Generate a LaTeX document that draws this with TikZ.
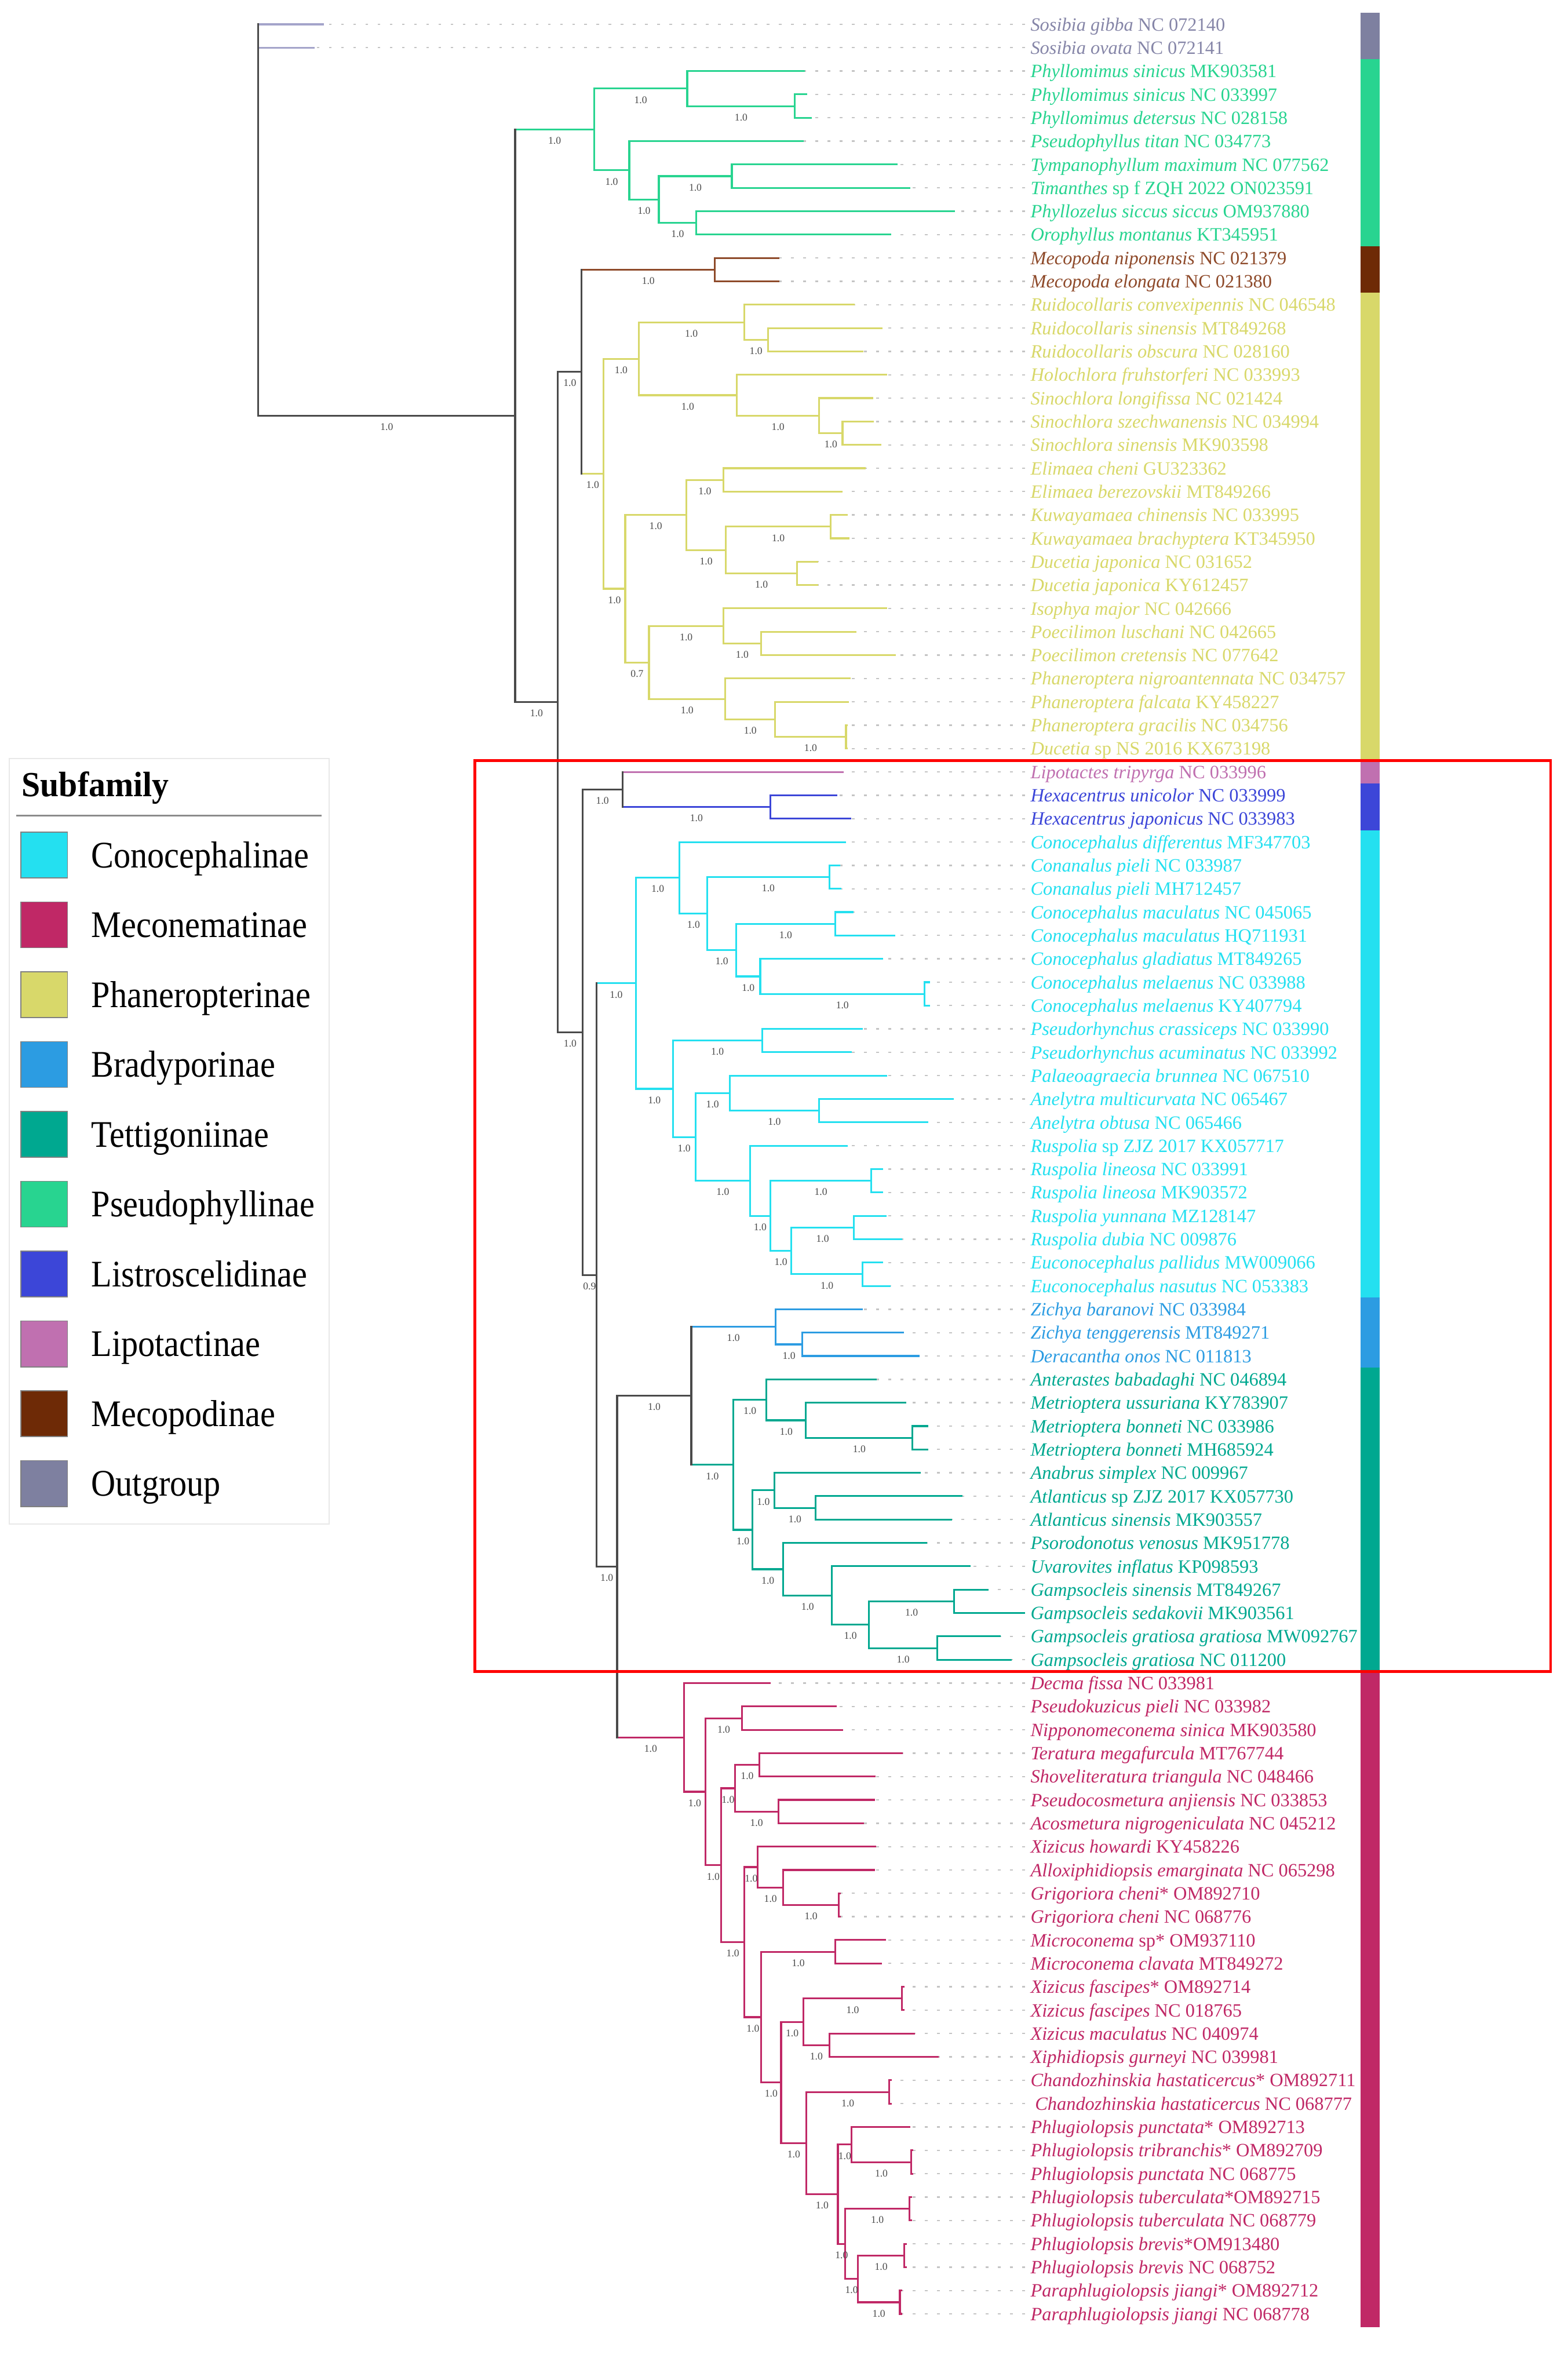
\documentclass[tikz,border=0pt]{standalone}
\usepackage{fontspec}
\setmainfont{Liberation Serif}
\usepackage{graphicx}
\usetikzlibrary{calc}
\definecolor{bb}{HTML}{4A4A4A}
\definecolor{outg}{HTML}{7E80A0}
\definecolor{outgB}{HTML}{A4A4CA}
\definecolor{outgT}{HTML}{8686A8}
\definecolor{pseu}{HTML}{28D490}
\definecolor{meco}{HTML}{6E2A06}
\definecolor{mecoB}{HTML}{8E4A2A}
\definecolor{phan}{HTML}{D8D86A}
\definecolor{lipo}{HTML}{C070B0}
\definecolor{lstr}{HTML}{3C46D8}
\definecolor{cono}{HTML}{24E0F0}
\definecolor{brad}{HTML}{2C9CE2}
\definecolor{tett}{HTML}{00A890}
\definecolor{mecn}{HTML}{C02866}
\definecolor{supcol}{HTML}{4A4A4A}
\definecolor{leadcol}{HTML}{C4C4C4}
\newcommand\tleaf[4]{%
  \pgfmathsetmacro\lyy{16.2+15.555*(#1-1)}%
  \coordinate (l#1) at (#2,\lyy);%
  \node[lab,text=#3] (t#1) at (686,\lyy) {#4};%
  \draw[leader] (t#1.west |- l#1) -- (l#1);%
}
\newcommand\bif[4]{\draw[fork,#4] (#2) -| (#1) |- (#3);}
\newcommand\hb[3]{\draw[br,#3] (#1 |- #2) -- (#2);}
\newcommand\vb[4]{\draw[br,#4] (#1 |- #2) -- (#1 |- #3);}
\newcommand\sv[3]{\path (#1 |- #2) -- node[supp] (s#2) {#3} (#2);}
\begin{document}
\begin{tikzpicture}[x=1pt,y=-1pt,
 br/.style={line width=1.2pt,line cap=rect},
 fork/.style={line width=1.2pt,line join=miter},
 lab/.style={anchor=base west,inner sep=0pt,yshift=-4.3pt,font=\fontsize{12.5}{14}\selectfont},
 supp/.style={inner sep=0pt,yshift=-7.5pt,font=\fontsize{6.8}{7}\selectfont,text=supcol},
 leader/.style={draw=leadcol,line width=0.9pt,dash pattern=on 1.8pt off 6.3pt,shorten <=3.5pt},
 legtxt/.style={anchor=base west,inner sep=0pt,font=\fontsize{25}{28}\selectfont},
 swatch/.style={draw=black!50,line width=0.6pt,minimum width=31pt,minimum height=30.5pt,inner sep=0pt}
]
\useasboundingbox (0,0) rectangle (1044,1568);
% ---------- leaves ----------
\tleaf{1}{215}{outgT}{\textit{Sosibia gibba} NC 072140}
\tleaf{2}{209}{outgT}{\textit{Sosibia ovata} NC 072141}
\tleaf{3}{536}{pseu}{\textit{Phyllomimus sinicus} MK903581}
\tleaf{4}{537.5}{pseu}{\textit{Phyllomimus sinicus} NC 033997}
\tleaf{5}{540.6}{pseu}{\textit{Phyllomimus detersus} NC 028158}
\tleaf{6}{535}{pseu}{\textit{Pseudophyllus titan} NC 034773}
\tleaf{7}{597.8}{pseu}{\textit{Tympanophyllum maximum} NC 077562}
\tleaf{8}{606}{pseu}{\textit{Timanthes} sp f ZQH 2022 ON023591}
\tleaf{9}{636}{pseu}{\textit{Phyllozelus siccus siccus} OM937880}
\tleaf{10}{593.5}{pseu}{\textit{Orophyllus montanus} KT345951}
\tleaf{11}{519}{mecoB}{\textit{Mecopoda niponensis} NC 021379}
\tleaf{12}{519}{mecoB}{\textit{Mecopoda elongata} NC 021380}
\tleaf{13}{569}{phan}{\textit{Ruidocollaris convexipennis} NC 046548}
\tleaf{14}{587.5}{phan}{\textit{Ruidocollaris sinensis} MT849268}
\tleaf{15}{575}{phan}{\textit{Ruidocollaris obscura} NC 028160}
\tleaf{16}{590.6}{phan}{\textit{Holochlora fruhstorferi} NC 033993}
\tleaf{17}{581.4}{phan}{\textit{Sinochlora longifissa} NC 021424}
\tleaf{18}{581.8}{phan}{\textit{Sinochlora szechwanensis} NC 034994}
\tleaf{19}{586.8}{phan}{\textit{Sinochlora sinensis} MK903598}
\tleaf{20}{576.4}{phan}{\textit{Elimaea cheni} GU323362}
\tleaf{21}{561}{phan}{\textit{Elimaea berezovskii} MT849266}
\tleaf{22}{564.4}{phan}{\textit{Kuwayamaea chinensis} NC 033995}
\tleaf{23}{565.6}{phan}{\textit{Kuwayamaea brachyptera} KT345950}
\tleaf{24}{544.6}{phan}{\textit{Ducetia japonica} NC 031652}
\tleaf{25}{544.6}{phan}{\textit{Ducetia japonica} KY612457}
\tleaf{26}{590.6}{phan}{\textit{Isophya major} NC 042666}
\tleaf{27}{570.2}{phan}{\textit{Poecilimon luschani} NC 042665}
\tleaf{28}{596.6}{phan}{\textit{Poecilimon cretensis} NC 077642}
\tleaf{29}{566.4}{phan}{\textit{Phaneroptera nigroantennata} NC 034757}
\tleaf{30}{565.2}{phan}{\textit{Phaneroptera falcata} KY458227}
\tleaf{31}{564.6}{phan}{\textit{Phaneroptera gracilis} NC 034756}
\tleaf{32}{564.6}{phan}{\textit{Ducetia} sp NS 2016 KX673198}
\tleaf{33}{561.1}{lipo}{\textit{Lipotactes tripyrga} NC 033996}
\tleaf{34}{557.5}{lstr}{\textit{Hexacentrus unicolor} NC 033999}
\tleaf{35}{566.7}{lstr}{\textit{Hexacentrus japonicus} NC 033983}
\tleaf{36}{563.4}{cono}{\textit{Conocephalus differentus} MF347703}
\tleaf{37}{559.6}{cono}{\textit{Conanalus pieli} NC 033987}
\tleaf{38}{560.1}{cono}{\textit{Conanalus pieli} MH712457}
\tleaf{39}{568.2}{cono}{\textit{Conocephalus maculatus} NC 045065}
\tleaf{40}{596.1}{cono}{\textit{Conocephalus maculatus} HQ711931}
\tleaf{41}{588}{cono}{\textit{Conocephalus gladiatus} MT849265}
\tleaf{42}{619.2}{cono}{\textit{Conocephalus melaenus} NC 033988}
\tleaf{43}{619.2}{cono}{\textit{Conocephalus melaenus} KY407794}
\tleaf{44}{574.3}{cono}{\textit{Pseudorhynchus crassiceps} NC 033990}
\tleaf{45}{567.3}{cono}{\textit{Pseudorhynchus acuminatus} NC 033992}
\tleaf{46}{590.7}{cono}{\textit{Palaeoagraecia brunnea} NC 067510}
\tleaf{47}{635}{cono}{\textit{Anelytra multicurvata} NC 065467}
\tleaf{48}{618.1}{cono}{\textit{Anelytra obtusa} NC 065466}
\tleaf{49}{564.6}{cono}{\textit{Ruspolia} sp ZJZ 2017 KX057717}
\tleaf{50}{588}{cono}{\textit{Ruspolia lineosa} NC 033991}
\tleaf{51}{588}{cono}{\textit{Ruspolia lineosa} MK903572}
\tleaf{52}{590.3}{cono}{\textit{Ruspolia yunnana} MZ128147}
\tleaf{53}{600.9}{cono}{\textit{Ruspolia dubia} NC 009876}
\tleaf{54}{588}{cono}{\textit{Euconocephalus pallidus} MW009066}
\tleaf{55}{593}{cono}{\textit{Euconocephalus nasutus} NC 053383}
\tleaf{56}{574.5}{brad}{\textit{Zichya baranovi} NC 033984}
\tleaf{57}{602}{brad}{\textit{Zichya tenggerensis} MT849271}
\tleaf{58}{612.3}{brad}{\textit{Deracantha onos} NC 011813}
\tleaf{59}{583.9}{tett}{\textit{Anterastes babadaghi} NC 046894}
\tleaf{60}{603.3}{tett}{\textit{Metrioptera ussuriana} KY783907}
\tleaf{61}{617.9}{tett}{\textit{Metrioptera bonneti} NC 033986}
\tleaf{62}{617.9}{tett}{\textit{Metrioptera bonneti} MH685924}
\tleaf{63}{613.2}{tett}{\textit{Anabrus simplex} NC 009967}
\tleaf{64}{640.9}{tett}{\textit{Atlanticus} sp ZJZ 2017 KX057730}
\tleaf{65}{633.8}{tett}{\textit{Atlanticus sinensis} MK903557}
\tleaf{66}{617.4}{tett}{\textit{Psorodonotus venosus} MK951778}
\tleaf{67}{646.3}{tett}{\textit{Uvarovites inflatus} KP098593}
\tleaf{68}{658.2}{tett}{\textit{Gampsocleis sinensis} MT849267}
\tleaf{69}{682.5}{tett}{\textit{Gampsocleis sedakovii} MK903561}
\tleaf{70}{666.2}{tett}{\textit{Gampsocleis gratiosa gratiosa} MW092767}
\tleaf{71}{673.6}{tett}{\textit{Gampsocleis gratiosa} NC 011200}
\tleaf{72}{513.3}{mecn}{\textit{Decma fissa} NC 033981}
\tleaf{73}{557}{mecn}{\textit{Pseudokuzicus pieli} NC 033982}
\tleaf{74}{561.2}{mecn}{\textit{Nipponomeconema sinica} MK903580}
\tleaf{75}{601.3}{mecn}{\textit{Teratura megafurcula} MT767744}
\tleaf{76}{583}{mecn}{\textit{Shoveliteratura triangula} NC 048466}
\tleaf{77}{582.5}{mecn}{\textit{Pseudocosmetura anjiensis} NC 033853}
\tleaf{78}{575.2}{mecn}{\textit{Acosmetura nigrogeniculata} NC 045212}
\tleaf{79}{583.4}{mecn}{\textit{Xizicus howardi} KY458226}
\tleaf{80}{582.5}{mecn}{\textit{Alloxiphidiopsis emarginata} NC 065298}
\tleaf{81}{560}{mecn}{\textit{Grigoriora cheni}* OM892710}
\tleaf{82}{560}{mecn}{\textit{Grigoriora cheni} NC 068776}
\tleaf{83}{589.8}{mecn}{\textit{Microconema} sp* OM937110}
\tleaf{84}{587.1}{mecn}{\textit{Microconema clavata} MT849272}
\tleaf{85}{602.2}{mecn}{\textit{Xizicus fascipes}* OM892714}
\tleaf{86}{602.2}{mecn}{\textit{Xizicus fascipes} NC 018765}
\tleaf{87}{609.4}{mecn}{\textit{Xizicus maculatus} NC 040974}
\tleaf{88}{624.9}{mecn}{\textit{Xiphidiopsis gurneyi} NC 039981}
\tleaf{89}{593.6}{mecn}{\textit{Chandozhinskia hastaticercus}* OM892711}
\tleaf{90}{593.6}{mecn}{\kern3pt\textit{Chandozhinskia hastaticercus} NC 068777}
\tleaf{91}{606.2}{mecn}{\textit{Phlugiolopsis punctata}* OM892713}
\tleaf{92}{608.2}{mecn}{\textit{Phlugiolopsis tribranchis}* OM892709}
\tleaf{93}{608.2}{mecn}{\textit{Phlugiolopsis punctata} NC 068775}
\tleaf{94}{607.1}{mecn}{\textit{Phlugiolopsis tuberculata}*OM892715}
\tleaf{95}{607.1}{mecn}{\textit{Phlugiolopsis tuberculata} NC 068779}
\tleaf{96}{603.7}{mecn}{\textit{Phlugiolopsis brevis}*OM913480}
\tleaf{97}{603.7}{mecn}{\textit{Phlugiolopsis brevis} NC 068752}
\tleaf{98}{600.7}{mecn}{\textit{Paraphlugiolopsis jiangi}* OM892712}
\tleaf{99}{600.7}{mecn}{\textit{Paraphlugiolopsis jiangi} NC 068778}
% ---------- internal nodes ----------
\coordinate (R) at (172,146.5);
\coordinate (NA) at (343,276.8);
\coordinate (P1) at (395.5,86.2);
\coordinate (P2) at (457.6,59.0);
\coordinate (P3) at (529.3,70.65);
\coordinate (P4) at (419,113.4);
\coordinate (P5) at (438.7,132.85);
\coordinate (P6) at (487.3,117.3);
\coordinate (P7) at (463.7,148.4);
\coordinate (NB) at (371.5,467.4);
\coordinate (NC) at (387.3,247.5);
\coordinate (Mec) at (476,179.55);
\coordinate (F1) at (402,315.4);
\coordinate (F2) at (425.2,238.85);
\coordinate (F3) at (495.5,214.55);
\coordinate (F4) at (511.3,226.2);
\coordinate (F5) at (490.7,263.15);
\coordinate (F6) at (545.4,276.8);
\coordinate (F7) at (561,288.45);
\coordinate (F8) at (416.3,392.0);
\coordinate (F9) at (457,342.9);
\coordinate (F10) at (481.7,319.55);
\coordinate (F11) at (483.4,366.2);
\coordinate (F12) at (553,350.65);
\coordinate (F13) at (530.6,381.75);
\coordinate (F14) at (432.1,441.1);
\coordinate (F15) at (481.7,416.8);
\coordinate (F16) at (506.7,428.45);
\coordinate (F17) at (482.9,465.4);
\coordinate (F18) at (516.2,479.0);
\coordinate (F19) at (563.3,490.65);
\coordinate (ND) at (387.8,687.3);
\coordinate (L1) at (414.5,525.65);
\coordinate (L2) at (512.9,537.3);
\coordinate (NE) at (397.2,848.9);
\coordinate (C1) at (423.4,654.7);
\coordinate (C2) at (452.5,584.45);
\coordinate (C3) at (471,608.3);
\coordinate (C4) at (552.2,584.0);
\coordinate (C5) at (490.2,632.6);
\coordinate (C6) at (556.1,615.1);
\coordinate (C7) at (506.2,650.1);
\coordinate (C8) at (615.6,661.75);
\coordinate (C9) at (448,724.95);
\coordinate (C10) at (507.4,692.85);
\coordinate (C11) at (463.1,757.05);
\coordinate (C12) at (485.8,727.9);
\coordinate (C13) at (545.5,739.55);
\coordinate (C14) at (499.4,786.2);
\coordinate (C15) at (512.9,809.5);
\coordinate (C16) at (580.2,786.2);
\coordinate (C17) at (527,832.85);
\coordinate (C18) at (568.5,817.3);
\coordinate (C19) at (574.3,848.4);
\coordinate (NF) at (410.9,1043.1);
\coordinate (T0) at (460.3,929.35);
\coordinate (B1) at (516.4,883.4);
\coordinate (B2) at (534.3,895.1);
\coordinate (T1) at (488.3,975.3);
\coordinate (T2) at (510.4,932.0);
\coordinate (T3) at (536.6,945.65);
\coordinate (T4) at (607.6,957.3);
\coordinate (T5) at (501,1018.55);
\coordinate (T6) at (515.6,992.3);
\coordinate (T7) at (543.1,1004.0);
\coordinate (T8) at (521.6,1044.8);
\coordinate (T9) at (553.9,1062.3);
\coordinate (T10) at (578.6,1081.75);
\coordinate (T11) at (635.3,1066.2);
\coordinate (T12) at (624.1,1097.3);
\coordinate (M1) at (455.6,1156.8);
\coordinate (M2) at (469.6,1192.95);
\coordinate (M3) at (494.2,1144.0);
\coordinate (M4) at (480.2,1241.9);
\coordinate (M5) at (489.3,1190.65);
\coordinate (M6) at (505.7,1175.1);
\coordinate (M7) at (518.2,1206.2);
\coordinate (M8) at (495.7,1293.1);
\coordinate (M9) at (504.6,1243.1);
\coordinate (M10) at (521.5,1256.75);
\coordinate (M11) at (558.5,1268.4);
\coordinate (M12) at (506.9,1343.05);
\coordinate (M13) at (556.1,1299.55);
\coordinate (M14) at (520.1,1386.55);
\coordinate (M15) at (534.8,1346.2);
\coordinate (M16) at (600.7,1330.65);
\coordinate (M17) at (552.4,1361.75);
\coordinate (M18) at (537,1426.9);
\coordinate (M19) at (592.1,1392.85);
\coordinate (M20) at (557.9,1460.94);
\coordinate (M21) at (567,1427.9);
\coordinate (M22) at (606.7,1439.55);
\coordinate (M23) at (562.8,1494.0);
\coordinate (M24) at (605.6,1470.65);
\coordinate (M25) at (571.2,1517.3);
\coordinate (M26) at (602.2,1501.75);
\coordinate (M27) at (599.2,1532.85);
% ---------- colored forks ----------
\bif{P1}{P2}{P4}{pseu} \bif{P2}{l3}{P3}{pseu} \bif{P3}{l4}{l5}{pseu}
\bif{P4}{l6}{P5}{pseu} \bif{P5}{P6}{P7}{pseu} \bif{P6}{l7}{l8}{pseu} \bif{P7}{l9}{l10}{pseu}
\bif{Mec}{l11}{l12}{mecoB}
\bif{F1}{F2}{F8}{phan} \bif{F2}{F3}{F5}{phan} \bif{F3}{l13}{F4}{phan} \bif{F4}{l14}{l15}{phan}
\bif{F5}{l16}{F6}{phan} \bif{F6}{l17}{F7}{phan} \bif{F7}{l18}{l19}{phan}
\bif{F8}{F9}{F14}{phan} \bif{F9}{F10}{F11}{phan} \bif{F10}{l20}{l21}{phan}
\bif{F11}{F12}{F13}{phan} \bif{F12}{l22}{l23}{phan} \bif{F13}{l24}{l25}{phan}
\bif{F14}{F15}{F17}{phan} \bif{F15}{l26}{F16}{phan} \bif{F16}{l27}{l28}{phan}
\bif{F17}{l29}{F18}{phan} \bif{F18}{l30}{F19}{phan} \bif{F19}{l31}{l32}{phan}
\bif{L2}{l34}{l35}{lstr}
\bif{C1}{C2}{C9}{cono} \bif{C2}{l36}{C3}{cono} \bif{C3}{C4}{C5}{cono} \bif{C4}{l37}{l38}{cono}
\bif{C5}{C6}{C7}{cono} \bif{C6}{l39}{l40}{cono} \bif{C7}{l41}{C8}{cono} \bif{C8}{l42}{l43}{cono}
\bif{C9}{C10}{C11}{cono} \bif{C10}{l44}{l45}{cono} \bif{C11}{C12}{C14}{cono}
\bif{C12}{l46}{C13}{cono} \bif{C13}{l47}{l48}{cono} \bif{C14}{l49}{C15}{cono}
\bif{C15}{C16}{C17}{cono} \bif{C16}{l50}{l51}{cono} \bif{C17}{C18}{C19}{cono}
\bif{C18}{l52}{l53}{cono} \bif{C19}{l54}{l55}{cono}
\bif{B1}{l56}{B2}{brad} \bif{B2}{l57}{l58}{brad}
\bif{T1}{T2}{T5}{tett} \bif{T2}{l59}{T3}{tett} \bif{T3}{l60}{T4}{tett} \bif{T4}{l61}{l62}{tett}
\bif{T5}{T6}{T8}{tett} \bif{T6}{l63}{T7}{tett} \bif{T7}{l64}{l65}{tett}
\bif{T8}{l66}{T9}{tett} \bif{T9}{l67}{T10}{tett} \bif{T10}{T11}{T12}{tett}
\bif{T11}{l68}{l69}{tett} \bif{T12}{l70}{l71}{tett}
\bif{M1}{l72}{M2}{mecn} \bif{M2}{M3}{M4}{mecn} \bif{M3}{l73}{l74}{mecn} \bif{M4}{M5}{M8}{mecn}
\bif{M5}{M6}{M7}{mecn} \bif{M6}{l75}{l76}{mecn} \bif{M7}{l77}{l78}{mecn}
\bif{M8}{M9}{M12}{mecn} \bif{M9}{l79}{M10}{mecn} \bif{M10}{l80}{M11}{mecn} \bif{M11}{l81}{l82}{mecn}
\bif{M12}{M13}{M14}{mecn} \bif{M13}{l83}{l84}{mecn} \bif{M14}{M15}{M18}{mecn}
\bif{M15}{M16}{M17}{mecn} \bif{M16}{l85}{l86}{mecn} \bif{M17}{l87}{l88}{mecn}
\bif{M18}{M19}{M20}{mecn} \bif{M19}{l89}{l90}{mecn} \bif{M20}{M21}{M23}{mecn}
\bif{M21}{l91}{M22}{mecn} \bif{M22}{l92}{l93}{mecn} \bif{M23}{M24}{M25}{mecn}
\bif{M24}{l94}{l95}{mecn} \bif{M25}{M26}{M27}{mecn} \bif{M26}{l96}{l97}{mecn} \bif{M27}{l98}{l99}{mecn}
% ---------- backbone ----------
\hb{R}{l1}{outgB} \hb{R}{l2}{outgB} \hb{R}{NA}{bb}
\hb{NA}{P1}{pseu} \hb{NA}{NB}{bb}
\hb{NB}{NC}{bb} \hb{NB}{ND}{bb}
\hb{NC}{Mec}{mecoB} \hb{NC}{F1}{phan}
\hb{ND}{L1}{bb} \hb{ND}{NE}{bb}
\hb{L1}{l33}{lipo} \hb{L1}{L2}{lstr}
\hb{NE}{C1}{cono} \hb{NE}{NF}{bb}
\hb{NF}{T0}{bb} \hb{NF}{M1}{mecn}
\hb{T0}{B1}{brad} \hb{T0}{T1}{tett}
\vb{R}{l1}{NA}{bb} \vb{NA}{P1}{NB}{bb} \vb{NB}{NC}{ND}{bb} \vb{NC}{Mec}{F1}{bb}
\vb{ND}{L1}{NE}{bb} \vb{L1}{l33}{L2}{bb} \vb{NE}{C1}{NF}{bb} \vb{NF}{T0}{M1}{bb}
\vb{T0}{B1}{T1}{bb}
% ---------- support values ----------
\foreach \p/\c in {R/NA,NA/P1,P1/P2,P2/P3,P1/P4,P4/P5,P5/P6,P5/P7,NA/NB,NB/NC,NC/Mec,NC/F1,
 F1/F2,F2/F3,F3/F4,F2/F5,F5/F6,F6/F7,F1/F8,F8/F9,F9/F10,F9/F11,F11/F12,F11/F13,
 F14/F15,F15/F16,F14/F17,F17/F18,F18/F19,NB/ND,ND/L1,L1/L2,
 NE/C1,C1/C2,C2/C3,C3/C4,C3/C5,C5/C6,C5/C7,C7/C8,C1/C9,C9/C10,C9/C11,C11/C12,C12/C13,
 C11/C14,C14/C15,C15/C16,C15/C17,C17/C18,C17/C19,NE/NF,NF/T0,T0/B1,B1/B2,T0/T1,
 T1/T2,T2/T3,T3/T4,T1/T5,T5/T6,T6/T7,T5/T8,T8/T9,T9/T10,T10/T11,T10/T12,
 NF/M1,M1/M2,M2/M3,M2/M4,M4/M5,M5/M6,M5/M7,M4/M8,M8/M9,M9/M10,M10/M11,M8/M12,
 M12/M13,M12/M14,M14/M15,M15/M16,M15/M17,M14/M18,M18/M19,M18/M20,M20/M21,M21/M22,
 M20/M23,M23/M24,M23/M25,M25/M26,M25/M27}
 {\sv{\p}{\c}{1.0}}
\sv{F8}{F14}{0.7}
\sv{ND}{NE}{0.9}
% ---------- colour bar ----------
\fill[outg] (906,8.4) rectangle (918.7,39.5);
\fill[pseu] (906,39.5) rectangle (918.7,163.8);
\fill[meco] (906,163.8) rectangle (918.7,194.9);
\fill[phan] (906,194.9) rectangle (918.7,506.1);
\fill[lipo] (906,506.1) rectangle (918.7,521.7);
\fill[lstr] (906,521.7) rectangle (918.7,552.8);
\fill[cono] (906,552.8) rectangle (918.7,863.9);
\fill[brad] (906,863.9) rectangle (918.7,910.5);
\fill[tett] (906,910.5) rectangle (918.7,1112.7);
\fill[mecn] (906,1112.7) rectangle (918.7,1549.6);
% ---------- legend ----------
\draw[black!9,line width=0.8pt,fill=white] (6,504.9) rectangle (219,1014.7);
\node[anchor=base west,inner sep=0pt,font=\fontsize{23.5}{26}\selectfont\bfseries] (legtitle) at (14.3,530.5) {\scalebox{0.95}[1]{Subfamily}};
\draw[black!45,line width=1pt] (10.7,543) -- (214,543);
\foreach \i/\col/\nm in {0/cono/Conocephalinae,1/mecn/Meconematinae,2/phan/Phaneropterinae,
  3/brad/Bradyporinae,4/tett/Tettigoniinae,5/pseu/Pseudophyllinae,6/lstr/Listroscelidinae,
  7/lipo/Lipotactinae,8/meco/Mecopodinae,9/outg/Outgroup}{
  \node[swatch,fill=\col] (sw\i) at (29.45,569.3+46.5*\i) {};
  \node[legtxt] (lg\i) at (60.6,577.6+46.5*\i) {\scalebox{0.9}[1]{\nm}};
}
% ---------- highlight box ----------
\draw[red,line width=1.8pt] (316.1,506.3) rectangle (1032.5,1112.8);
\end{tikzpicture}
\end{document}
